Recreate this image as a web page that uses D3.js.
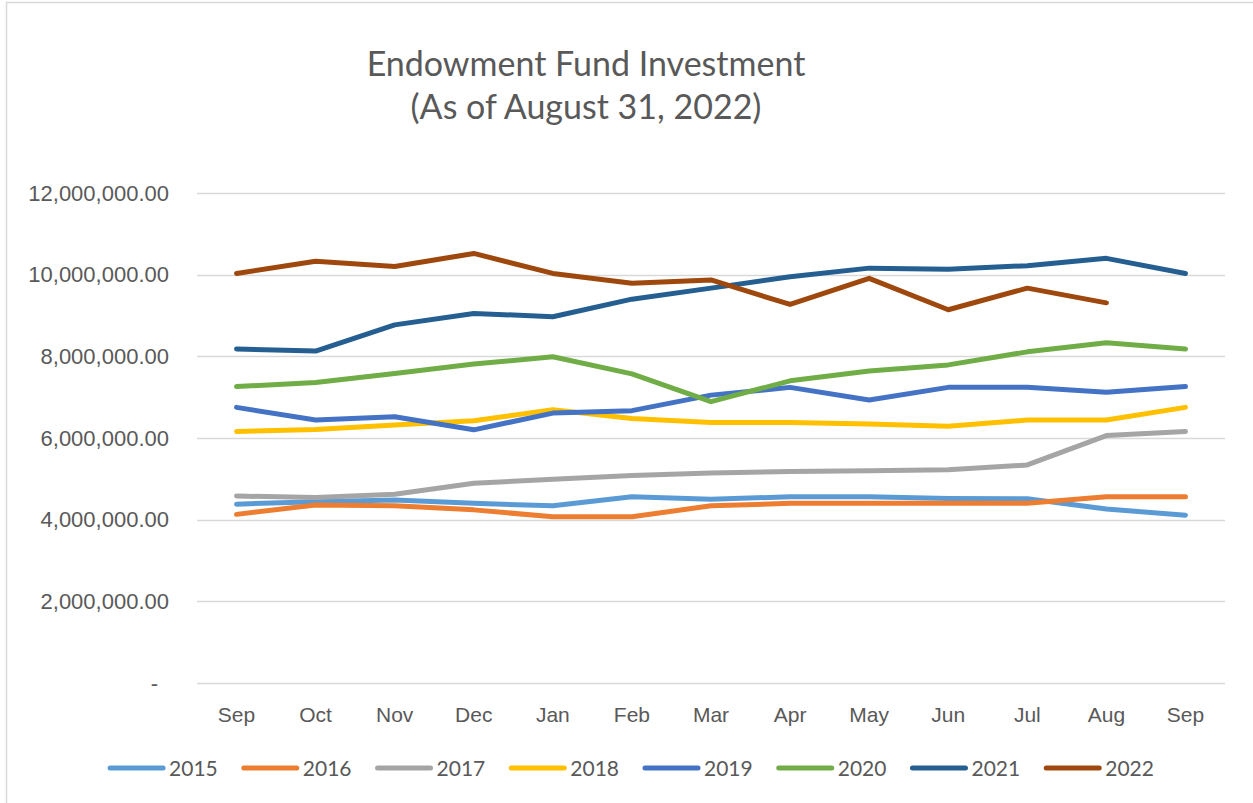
<!DOCTYPE html>
<html>
<head>
<meta charset="utf-8">
<title>Endowment Fund Investment</title>
<script src="https://cdn.jsdelivr.net/npm/d3@7"></script>
<style>
  body { margin: 0; background: #fff; }
  svg { display: block; font-family: Lato, 'Open Sans', sans-serif; }
  .axis text { fill: #595959; font-size: 21px; }
  .axis--y text { font-size: 22px; }
  .axis path, .axis line { display: none; }
  .grid line { stroke: #d9d9d9; stroke-width: 1.5; }
  .series { fill: none; stroke-width: 5; stroke-linejoin: round; stroke-linecap: round; }
</style>
</head>
<body>
<svg id="chart" width="1253" height="803"></svg>
<script>
;(function() {

  // months along the x axis (Sep -> Sep)
  var months = ['Sep', 'Oct', 'Nov', 'Dec', 'Jan', 'Feb', 'Mar', 'Apr', 'May', 'Jun', 'Jul', 'Aug', 'Sep'];

  var years = ['2015', '2016', '2017', '2018', '2019', '2020', '2021', '2022'];
  var colors = ['#5b9bd5', '#ed7d31', '#a5a5a5', '#ffc000', '#4472c4', '#70ad47', '#255e91', '#9e480e'];

  // values
  var v2015 = [4380000, 4440000, 4480000, 4400000, 4340000, 4560000, 4500000, 4560000, 4560000, 4520000, 4510000, 4260000, 4110000];
  var v2016 = [4130000, 4360000, 4340000, 4240000, 4070000, 4070000, 4340000, 4400000, 4400000, 4400000, 4400000, 4560000, 4560000];
  var v2017 = [4580000, 4540000, 4620000, 4890000, 4990000, 5080000, 5140000, 5180000, 5200000, 5220000, 5340000, 6060000, 6160000];
  var v2018 = [6160000, 6210000, 6320000, 6420000, 6690000, 6480000, 6380000, 6380000, 6340000, 6290000, 6440000, 6440000, 6750000];
  var v2019 = [6750000, 6440000, 6520000, 6200000, 6610000, 6670000, 7050000, 7240000, 6930000, 7240000, 7240000, 7120000, 7260000];
  var v2020 = [7260000, 7360000, 7580000, 7810000, 7990000, 7570000, 6890000, 7400000, 7640000, 7790000, 8110000, 8330000, 8180000];
  var v2021 = [8180000, 8130000, 8770000, 9050000, 8970000, 9400000, 9670000, 9950000, 10160000, 10130000, 10220000, 10400000, 10030000];
  var v2022 = [10030000, 10330000, 10200000, 10520000, 10030000, 9790000, 9870000, 9270000, 9910000, 9140000, 9670000, 9310000];

  var yTicks = [0, 2000000, 4000000, 6000000, 8000000, 10000000, 12000000];

  var seriesValues = [v2015, v2016, v2017, v2018, v2019, v2020, v2021, v2022];

  var svg = d3.select('#chart');

  var margin = { left: 197, right: 1225, top: 193, bottom: 683 };

  // outer chart border (only top and left visible in the frame)
  svg.append('rect')
    .attr('x', 6.5)
    .attr('y', 2.5)
    .attr('width', 1400)
    .attr('height', 1000)
    .attr('fill', '#fff')
    .attr('stroke', '#d9d9d9')
    .attr('stroke-width', 1.5);

  svg.append('text')
    .attr('x', 586)
    .attr('y', 76)
    .attr('text-anchor', 'middle')
    .attr('fill', '#595959')
    .style('font-size', '34px')
    .text('Endowment Fund Investment');

  svg.append('text')
    .attr('x', 586)
    .attr('y', 119)
    .attr('text-anchor', 'middle')
    .attr('fill', '#595959')
    .style('font-size', '34px')
    .text('(As of August 31, 2022)');

  // index based band scale so the repeated "Sep" keeps its own slot
  var x = d3.scaleBand()
    .domain(d3.range(months.length))
    .range([margin.left, margin.right])
    .padding(0);

  var y = d3.scaleLinear()
    .domain([0, 12000000])
    .range([margin.bottom, margin.top]);

  var fmt = d3.format(',.2f');

  svg.append('g')
    .attr('class', 'grid')
    .selectAll('line')
    .data(yTicks)
    .enter()
    .append('line')
    .attr('x1', margin.left)
    .attr('x2', margin.right)
    .attr('y1', function(d) { return Math.round(y(d)) + 0.5; })
    .attr('y2', function(d) { return Math.round(y(d)) + 0.5; });

  var yAxis = d3.axisLeft(y)
    .tickValues(yTicks)
    .tickSize(0)
    .tickPadding(28)
    .tickFormat(function(d) {
      return d === 0 ? '-' : fmt(d);
    });

  svg.append('g')
    .attr('class', 'axis axis--y')
    .attr('transform', 'translate(' + margin.left + ', 0)')
    .call(yAxis)
    .selectAll('text')
    .attr('dx', function(d) { return d === 0 ? -11 : 0; });

  var xAxis = d3.axisBottom(x)
    .tickSize(0)
    .tickPadding(24)
    .tickFormat(function(i) { return months[i]; });

  svg.append('g')
    .attr('class', 'axis axis--x')
    .attr('transform', 'translate(0, ' + margin.bottom + ')')
    .call(xAxis);

  var line = d3.line()
    .x(function(d, i) { return x(i) + x.bandwidth() / 2; })
    .y(function(d) { return y(d); });

  svg.append('g')
    .selectAll('path')
    .data(seriesValues)
    .enter()
    .append('path')
    .attr('class', 'series')
    .attr('stroke', function(d, i) { return colors[i]; })
    .attr('d', line);

  // legend, centred under the plot
  var legend = svg.append('g')
    .attr('class', 'legend');

  var items = legend.selectAll('g')
    .data(years)
    .enter()
    .append('g');

  items.append('line')
    .attr('x1', 0)
    .attr('x2', 53)
    .attr('y1', 0)
    .attr('y2', 0)
    .attr('stroke', function(d, i) { return colors[i]; })
    .attr('stroke-width', 5)
    .attr('stroke-linecap', 'round');

  items.append('text')
    .attr('x', 59)
    .attr('y', 7.5)
    .attr('fill', '#595959')
    .style('font-size', '21px')
    .text(function(d) { return d; });

  var offset = 0;
  var positions = [];
  items.each(function() {
    var w = this.querySelector('text').getComputedTextLength();
    positions.push(offset);
    offset += 59 + w + 26;
  });
  var total = offset - 26;
  var start = 632 - total / 2;

  items.attr('transform', function(d, i) {
    return 'translate(' + (start + positions[i]) + ', 768)';
  });

})();
</script>
</body>
</html>
